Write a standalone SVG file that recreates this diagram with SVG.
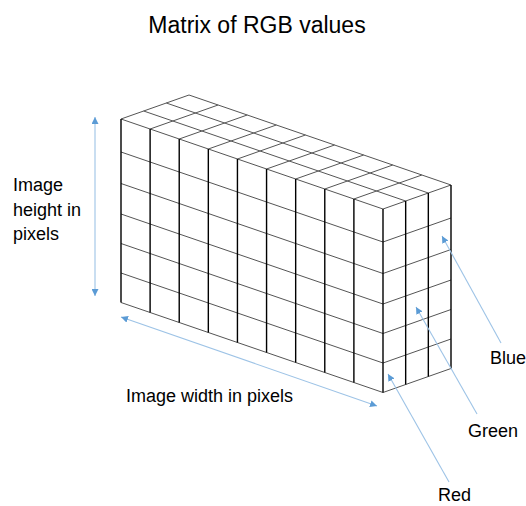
<svg xmlns="http://www.w3.org/2000/svg" width="526" height="506" viewBox="0 0 526 506">
  <style>
    .t { font-family: "Liberation Sans", Arial, sans-serif; fill: #000; }
    .v { stroke: #000; stroke-width: 1.4; fill: none; }
    .h { stroke: #555; stroke-width: 1; fill: none; }
    .a { stroke: #9DC3E6; stroke-width: 1.1; fill: none; }
  </style>
  <defs>
    <marker id="ah" markerUnits="userSpaceOnUse" markerWidth="8" markerHeight="7" refX="7" refY="3.5" orient="auto-start-reverse">
      <path d="M0,0 L7,3.5 L0,7 z" fill="#5B9BD5"/>
    </marker>
  </defs>
  <rect width="526" height="506" fill="#fff"/>

  <g id="title">
    <text class="t" x="257" y="33" font-size="23" text-anchor="middle">Matrix of RGB values</text>
  </g>

  <g id="matrix">
    <!-- top face: lines along width -->
    <path class="h" d="M121,119 L383,209 M143.67,111 L405.67,201 M166.33,103 L428.33,193 M189,95 L451,185"/>
    <!-- top face: lines along depth -->
    <path class="h" d="M121,119 l68,-24 M150.11,129 l68,-24 M179.22,139 l68,-24 M208.33,149 l68,-24 M237.44,159 l68,-24 M266.56,169 l68,-24 M295.67,179 l68,-24 M324.78,189 l68,-24 M353.89,199 l68,-24 M383,209 l68,-24"/>
    <!-- front face: row lines -->
    <path class="h" d="M121,152 L383,242 M121,183.5 L383,273.5 M121,214 L383,304 M121,243.5 L383,333.5 M121,273 L383,363 M121,302.5 L383,392.5"/>
    <!-- right face: row lines -->
    <path class="h" d="M383,242 l68,-24 M383,273.5 l68,-24 M383,304 l68,-24 M383,333.5 l68,-24 M383,363 l68,-24 M383,392.5 l68,-24"/>
    <!-- front face: column lines -->
    <path class="v" d="M121,119 V302.5 M150.11,129 V312.5 M179.22,139 V322.5 M208.33,149 V332.5 M237.44,159 V342.5 M266.56,169 V352.5 M295.67,179 V362.5 M324.78,189 V372.5 M353.89,199 V382.5 M383,209 V392.5"/>
    <!-- right face: column lines -->
    <path class="v" d="M405.67,201 V384.5 M428.33,193 V376.5 M451,185 V368.5"/>
  </g>

  <g id="label-height">
    <text class="t" font-size="18"><tspan x="13" y="190.5">Image</tspan><tspan x="13" y="215.5">height in</tspan><tspan x="13" y="239.5">pixels</tspan></text>
  </g>
  <g id="label-width">
    <text class="t" x="126" y="401.5" font-size="18">Image width in pixels</text>
  </g>
  <g id="label-blue">
    <text class="t" x="490" y="364" font-size="18">Blue</text>
  </g>
  <g id="label-green">
    <text class="t" x="468" y="437" font-size="18">Green</text>
  </g>
  <g id="label-red">
    <text class="t" x="438" y="501" font-size="18">Red</text>
  </g>

  <g id="connectors">
    <line class="a" x1="95" y1="117" x2="95" y2="296" marker-start="url(#ah)" marker-end="url(#ah)"/>
    <line class="a" x1="121" y1="317" x2="377" y2="406" marker-start="url(#ah)" marker-end="url(#ah)"/>
    <line class="a" x1="501" y1="343" x2="442" y2="236" marker-end="url(#ah)"/>
    <line class="a" x1="477" y1="414" x2="416" y2="307" marker-end="url(#ah)"/>
    <line class="a" x1="449" y1="482" x2="388" y2="374" marker-end="url(#ah)"/>
  </g>
</svg>
